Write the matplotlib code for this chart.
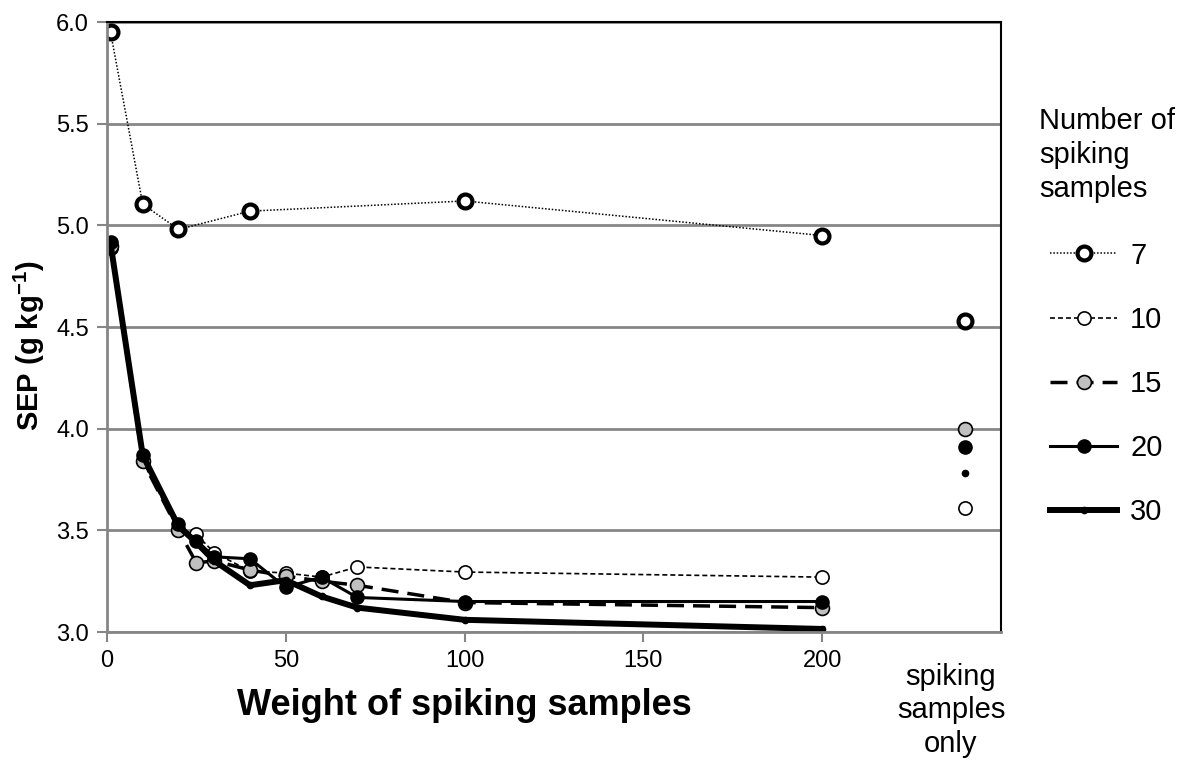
import matplotlib
matplotlib.use("Agg")
import matplotlib.pyplot as plt

plt.rcParams['font.family'] = ['Liberation Sans', 'DejaVu Sans']
plt.rcParams['mathtext.fontset'] = 'custom'
plt.rcParams['mathtext.rm'] = 'Liberation Sans'
plt.rcParams['mathtext.bf'] = 'Liberation Sans:bold'

# weights of the spiking samples (x) and SEP values per number of spiking samples
weights = [1, 10, 20, 25, 30, 40, 50, 60, 70, 100, 200]
weights_7 = [1, 10, 20, 40, 100, 200]
sep_7 = [5.95, 5.105, 4.98, 5.07, 5.12, 4.95]
sep_10 = [4.89, 3.84, 3.50, 3.48, 3.39, 3.30, 3.29, 3.27, 3.32, 3.295, 3.27]
sep_15 = [4.90, 3.84, 3.50, 3.34, 3.35, 3.305, 3.275, 3.25, 3.23, 3.145, 3.12]
sep_20 = [4.92, 3.87, 3.53, 3.45, 3.37, 3.36, 3.22, 3.27, 3.17, 3.15, 3.15]
sep_30 = [4.91, 3.87, 3.52, 3.44, 3.35, 3.23, 3.255, 3.175, 3.12, 3.06, 3.015]

# "spiking samples only" results, drawn at a separate x position
only_x = 240
only_sep = [4.53, 3.61, 4.00, 3.91, 3.78]

labels = ['7', '10', '15', '20', '30']
xticks = [0, 50, 100, 150, 200]
yticks = [3.0, 3.5, 4.0, 4.5, 5.0, 5.5, 6.0]

grey = '#868686'
styles = [
    dict(ls=(0, (1, 1.2)), lw=1.1, marker='o', mfc='white', mec='black', ms=10, mew=3),
    dict(ls=(0, (3, 1.8)), lw=1.2, marker='o', mfc='white', mec='black', ms=9.5, mew=1.2),
    dict(ls=(0, (4.9, 2.6)), lw=2.5, marker='o', mfc='#c0c0c0', mec='black', ms=10, mew=1.2),
    dict(ls='-', lw=2.2, marker='o', mfc='black', mec='black', ms=9.5, mew=1),
    dict(ls='-', lw=4.3, marker='o', mfc='black', mec='black', ms=4.5, mew=1),
]

fig = plt.figure(figsize=(11.87, 7.6), dpi=100)
ax = fig.add_axes([0.0901, 0.1684, 0.8433 - 0.0901, 0.971 - 0.1684])

xs = [weights_7, weights, weights, weights, weights]
ys = [sep_7, sep_10, sep_15, sep_20, sep_30]
for x, y, lab, st in zip(xs, ys, labels, styles):
    ax.plot(x, y, color='black', label=lab, **st)

for val, st in zip(only_sep, styles):
    st2 = dict(st)
    st2['ls'] = 'none'
    ax.plot([only_x], [val], color='black', **st2)

ax.set_xlim(0, 250)
ax.set_ylim(3.0, 6.0)
ax.set_xticks(xticks)
ax.set_yticks(yticks)
ax.set_yticklabels(['%.1f' % v for v in yticks])
ax.tick_params(labelsize=17, color=grey, length=7, width=1.5, pad=6)
ax.yaxis.grid(True, color=grey, lw=2)
ax.set_axisbelow(True)
for s in ['left', 'bottom']:
    ax.spines[s].set_color(grey)
    ax.spines[s].set_linewidth(2)
for s in ['top', 'right']:
    ax.spines[s].set_color('black')
    ax.spines[s].set_linewidth(1.5)

ax.set_ylabel(r'SEP (g kg$^{\mathbf{-1}}$)', fontsize=21, fontweight='bold')
ax.yaxis.set_label_coords(-0.067, 0.47)

ax.text(100, -0.12, 'Weight of spiking samples', transform=ax.get_xaxis_transform(),
        ha='center', va='center', fontsize=26, fontweight='bold')
ax.text(236, -0.05, 'spiking\nsamples\nonly', transform=ax.get_xaxis_transform(),
        ha='center', va='top', fontsize=21, linespacing=1.27)

# legend title as a separate text block, entries below it
fig.text(1039 / 1187, 1 - 155 / 760, 'Number of\nspiking\nsamples', ha='left', va='center',
         fontsize=21, linespacing=1.27)
leg = fig.legend(loc='center left', bbox_to_anchor=(1050 / 1187, 1 - 384 / 760), frameon=False,
                 fontsize=21, handlelength=2.3, handletextpad=0.45, labelspacing=1.24,
                 borderpad=0, borderaxespad=0)

fig.savefig('out.png', dpi=100)
